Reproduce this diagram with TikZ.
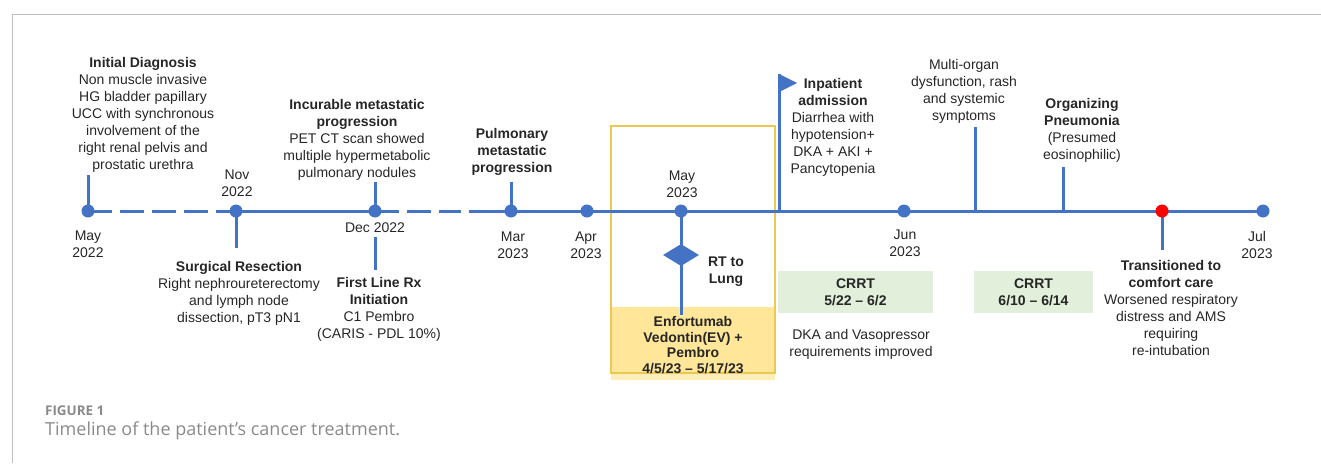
\documentclass[tikz,border=0pt]{standalone}
\usepackage{fontspec}
\setmainfont{Liberation Sans}
\newfontfamily\capfont{Open Sans}
\usetikzlibrary{shapes.geometric}
\definecolor{tblue}{HTML}{4472C4}
\definecolor{txt}{HTML}{262626}
\definecolor{yfill}{HTML}{FFE699}
\definecolor{ylight}{HTML}{FDEDB8}
\definecolor{yline}{HTML}{EBC852}
\definecolor{gfill}{HTML}{E2EFDA}
\definecolor{capgray}{HTML}{8A8A8A}
\definecolor{framegray}{HTML}{BDBDBD}
\tikzset{
  lbl/.style={font=\fontsize{14}{17}\selectfont, align=center, inner sep=0pt, anchor=north, text=txt},
  dot/.style={circle, fill=tblue, inner sep=0pt, minimum size=13pt},
  reddot/.style={circle, fill=red, inner sep=0pt, minimum size=13pt},
  tl/.style={draw=tblue, line width=3pt},
  dashtl/.style={draw=tblue, line width=3pt, dash pattern=on 24pt off 8pt},
  stem/.style={draw=tblue, line width=3pt},
  greenbox/.style={fill=gfill, inner sep=0pt, minimum width=#1, minimum height=42pt, font=\fontsize{14}{17}\selectfont\bfseries, align=center, text=txt},
}
\begin{document}
\begin{tikzpicture}[x=1pt,y=-1pt]
\useasboundingbox (0,0) rectangle (1321,463);
% frame
\draw[framegray, line width=1pt] (12,463) -- (12,14) -- (1321,14);

% yellow box
\fill[ylight] (611,373) rectangle (775,380);
\fill[yfill] (611,307) rectangle (775,373);
\draw[yline, line width=1.2pt] (611,126) rectangle (775,373);

% green boxes
\node[greenbox=155pt] (crrt1) at (855.5,292) {CRRT\\5/22 -- 6/2};
\node[greenbox=119pt] (crrt2) at (1033.5,292) {CRRT\\6/10 -- 6/14};

% coordinates on the timeline and stem ends
\coordinate (gapA) at (461,211);
\coordinate (gapB) at (469,211);
\coordinate (inp) at (779,211);
\coordinate (multi) at (975,211);
\coordinate (org) at (1063,211);
\coordinate (d1top) at (88,175);
\coordinate (d2bot) at (236,248);
\coordinate (d3top) at (375,182);
\coordinate (decA) at (375,237);
\coordinate (decB) at (375,270);
\coordinate (d4top) at (511,182);
\coordinate (d6bot) at (681,315);
\coordinate (inptop) at (779,74);
\coordinate (multitop) at (975,127);
\coordinate (orgtop) at (1063,167);
\coordinate (redbot) at (1162,250);

\path
  (88,211) coordinate (c1)
  (236,211) coordinate (c2)
  (375,211) coordinate (c3)
  (511,211) coordinate (c4)
  (587,211) coordinate (c5)
  (681,211) coordinate (c6)
  (904,211) coordinate (c7)
  (1162,211) coordinate (cr)
  (1263,211) coordinate (c8);

% timeline
\draw[dashtl] (c1) -- (c2);
\draw[tl] (c2) -- (c3);
\draw[dashtl] (c3) -- (gapA);
\draw[tl] (gapB) -- (c4) -- (c5) -- (c6) -- (inp) -- (c7) -- (multi) -- (org) -- (cr) -- (c8);

% stems
\draw[stem] (c1) -- (d1top);
\draw[stem] (c2) -- (d2bot);
\draw[stem] (c3) -- (d3top);
\draw[stem] (decA) -- (decB);
\draw[stem] (c4) -- (d4top);
\draw[stem] (c6) -- (d6bot);
\draw[stem] (inp) -- (inptop);
\draw[stem] (multi) -- (multitop);
\draw[stem] (org) -- (orgtop);
\draw[stem] (cr) -- (redbot);

% flag
\fill[tblue] (inptop) -- ++(18,9) -- ++(-18,9) -- cycle;

% diamond
\node[diamond, fill=tblue, inner sep=0pt, minimum width=36pt, minimum height=22pt, shape aspect=1.6] (rt) at (681,255) {};

% dots
\node[dot] (d1) at (c1) {};
\node[dot] (d2) at (c2) {};
\node[dot] (d3) at (c3) {};
\node[dot] (d4) at (c4) {};
\node[dot] (d5) at (c5) {};
\node[dot] (d6) at (c6) {};
\node[dot] (d7) at (c7) {};
\node[reddot] (dr) at (cr) {};
\node[dot] (d8) at (c8) {};

% labels
\node[lbl] (t1) at (143,57) {\textbf{Initial Diagnosis}\\Non muscle invasive\\HG bladder papillary\\UCC with synchronous\\involvement of the\\right renal pelvis and\\prostatic urethra};
\node[lbl] (l1) at (88,231) {May\\2022};
\node[lbl] (l2) at (237,170) {Nov\\2022};
\node[lbl] (t2) at (239,261) {\textbf{Surgical Resection}\\Right nephroureterectomy\\and lymph node\\dissection, pT3 pN1};
\node[lbl] (t3) at (357,99) {\textbf{Incurable metastatic}\\\textbf{progression}\\PET CT scan showed\\multiple hypermetabolic\\pulmonary nodules};
\node[lbl] (l3) at (375,223) {Dec 2022};
\node[lbl] (t4) at (379,277) {\textbf{First Line Rx}\\\textbf{Initiation}\\C1 Pembro\\(CARIS - PDL 10\%)};
\node[lbl] (t5) at (512,128) {\textbf{Pulmonary}\\\textbf{metastatic}\\\textbf{progression}};
\node[lbl] (l4) at (513,232) {Mar\\2023};
\node[lbl] (l5) at (586,232) {Apr\\2023};
\node[lbl] (l6) at (682,171) {May\\2023};
\node[lbl] (t6) at (726,257) {\textbf{RT to}\\\textbf{Lung}};
\node[lbl, font=\fontsize{14}{15.7}\selectfont\bfseries] (t7) at (693,316) {Enfortumab\\Vedontin(EV) +\\Pembro\\4/5/23 -- 5/17/23};
\node[lbl] (t8) at (833,78) {\textbf{Inpatient}\\\textbf{admission}\\Diarrhea with\\hypotension+\\DKA + AKI +\\Pancytopenia};
\node[lbl] (t9) at (964,59) {Multi-organ\\dysfunction, rash\\and systemic\\symptoms};
\node[lbl] (l7) at (905,230) {Jun\\2023};
\node[lbl] (t10) at (861,329) {DKA and Vasopressor\\requirements improved};
\node[lbl] (t11) at (1082,98) {\textbf{Organizing}\\\textbf{Pneumonia}\\(Presumed\\eosinophilic)};
\node[lbl] (t12) at (1171,260) {\textbf{Transitioned to}\\\textbf{comfort care}\\Worsened respiratory\\distress and AMS\\requiring\\re-intubation};
\node[lbl] (l8) at (1257,231) {Jul\\2023};

% caption
\node[anchor=west, inner sep=0pt, text=capgray, font=\capfont\bfseries\fontsize{13.4}{15}\selectfont] (fig) at (45,411) {FIGURE 1};
\node[anchor=west, inner sep=0pt, text=capgray, font=\capfont\fontsize{18}{21}\selectfont] (cap) at (45,431) {Timeline of the patient’s cancer treatment.};
\end{tikzpicture}
\end{document}
